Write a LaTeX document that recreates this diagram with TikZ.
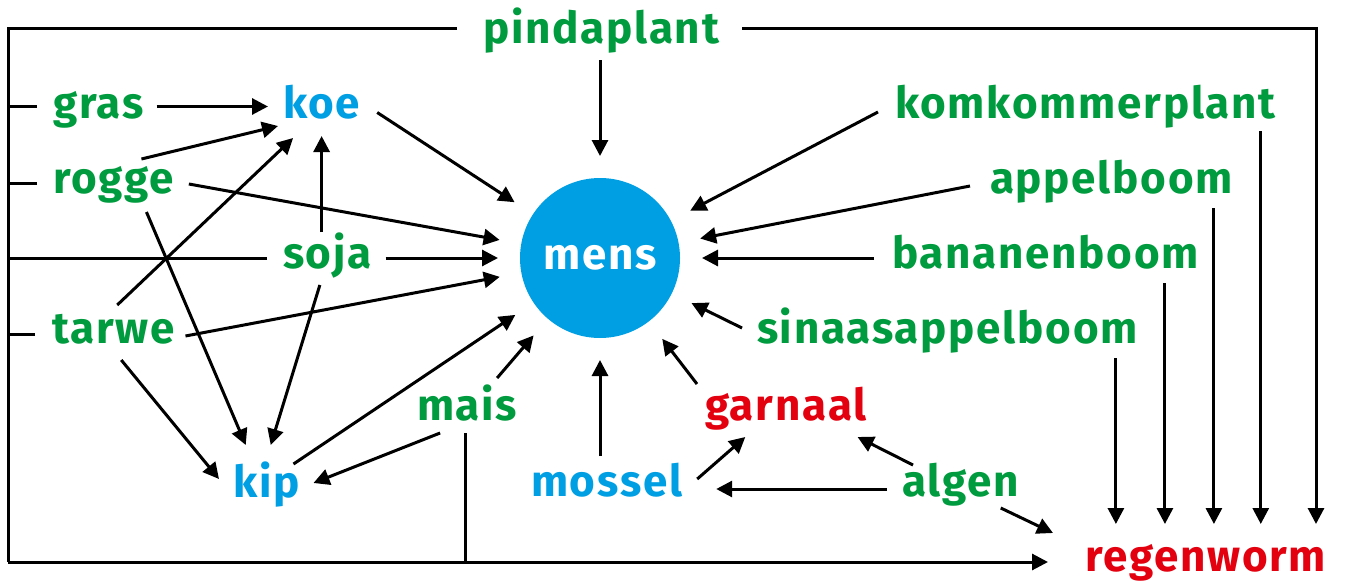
\documentclass[tikz,border=0pt]{standalone}
\usepackage{fontspec}
\setmainfont{Fira Sans}[LetterSpace=4]
\usetikzlibrary{arrows.meta,calc}
\definecolor{plantgreen}{RGB}{0,155,62}
\definecolor{animalblue}{RGB}{0,159,227}
\definecolor{wormred}{RGB}{227,0,15}
\tikzset{
  lbl/.style={anchor=base west,inner sep=0pt,outer sep=0pt,text height=23pt,text depth=0pt,
    font=\fontsize{44}{50}\selectfont\bfseries},
  plant/.style={lbl,text=plantgreen},
  animal/.style={lbl,text=animalblue},
  decomp/.style={lbl,text=wormred},
  link/.style={line width=3pt,draw=black},
  arr/.style={link,-{Triangle[length=16pt,width=16pt]}},
}
\begin{document}
\begin{tikzpicture}[x=1pt,y=-1pt]
\useasboundingbox (0,0) rectangle (1350,581);

% centre of the web
\node[circle,fill=animalblue,minimum size=160pt,inner sep=0pt,outer sep=22pt,
      text=white,font=\fontsize{44}{50}\selectfont\bfseries] (mens) at (600,258) {mens};

% producers and consumers
\node[plant]  (pindaplant) at (483,43)  {pindaplant};
\node[plant]  (gras)       at (53,118)  {gras};
\node[animal] (koe)        at (283,118) {koe};
\node[plant]  (rogge)      at (53,193)  {rogge};
\node[plant]  (soja)       at (283,268) {soja};
\node[plant]  (tarwe)      at (52,343)  {tarwe};
\node[animal] (kip)        at (233,497) {kip};
\node[plant]  (mais)       at (417,420) {mais};
\node[animal] (mossel)     at (531,496) {mossel};
\node[decomp] (garnaal)    at (705,420) {garnaal};
\node[plant]  (algen)      at (902,496) {algen};
\node[decomp] (regenworm)  at (1085,571) {regenworm};
\node[plant]  (komkommer)  at (895,118) {komkommerplant};
\node[plant]  (appel)      at (990,193) {appelboom};
\node[plant]  (banaan)     at (892,268) {bananenboom};
\node[plant]  (sinaas)     at (757,343) {sinaasappelboom};

% outer frame collecting everything that ends in the soil
\coordinate (ftl) at (8,28);
\coordinate (fbl) at (8,562);
\coordinate (ftr) at (1316,28);
\coordinate (pl-left)  at ($(pindaplant.west)+(-26,0)$);
\coordinate (pl-right) at ($(pindaplant.east)+(23,0)$);
\coordinate (worm-in)  at ($(regenworm.west)+(-37,3)$);
\draw[link] (ftl -| pl-left) -- (ftl) -- (fbl);
\draw[arr] (fbl) -- (fbl -| worm-in);
\draw[arr] (ftl -| pl-right) -- (ftr) -- ($(ftr |- regenworm.north)+(0,-24)$);

% side branches into the frame
\draw[link] ($(gras.west)+(-16,0)$) -- (ftl |- gras.west);
\draw[link] ($(rogge.west)+(-16,1.5)$) -- ($(ftl |- rogge.west)+(0,1.5)$);
\draw[link] ($(soja.west)+(-16,1.5)$) -- ($(ftl |- soja.west)+(0,1.5)$);
\draw[link] ($(tarwe.west)+(-17,2.5)$) -- ($(ftl |- tarwe.west)+(0,2.5)$);
\draw[link] ($(mais.south)+(-2,13)$) -- ($(mais.south |- fbl)+(-2,0)$);

% into koe
\draw[arr] ($(gras.east)+(13,0)$) -- ($(koe.west)+(-15,0)$);
\draw[arr] ($(rogge.north)+(28,-11)$) -- ($(koe.south west)+(-5,8)$);
\draw[arr] ($(tarwe.north)+(4,-15)$) -- ($(koe.south)+(-28.5,20)$);
\draw[arr] ($(koe.south |- soja.north)+(0,-13)$) -- ($(koe.south)+(0,18)$);

% into kip
\draw[arr] ($(rogge.south)+(33,19)$) -- ($(kip.north)+(-20.5,-29)$);
\draw[arr] ($(soja.south)+(-7.5,17)$) -- ($(kip.north)+(4.5,-29)$);
\draw[arr] ($(tarwe.south)+(8,17)$) -- ($(kip.west)+(-14,-6.5)$);
\draw[arr] ($(mais.south)+(-27,13)$) -- ($(kip.east)+(14,-2.5)$);

% into mens
\draw[arr] ($(mens |- pindaplant.south)+(0,17)$) -- (mens);
\draw[arr] ($(koe.east)+(17,6)$) -- (mens);
\draw[arr] ($(rogge.east)+(15,2.5)$) -- (mens);
\draw[arr] ($(soja.east)+(14,1.5)$) -- (mens);
\draw[arr] ($(tarwe.east)+(11,4.5)$) -- (mens);
\draw[arr] ($(kip.north east)+(-6,-10)$) -- (mens);
\draw[arr] ($(mais.north)+(30,-19)$) -- (mens);
\draw[arr] ($(mens |- mossel.north)+(0,-17)$) -- (mens);
\draw[arr] ($(garnaal.north west)+(-8,-13)$) -- (mens);
\draw[arr] ($(komkommer.west)+(-17,5.5)$) -- (mens);
\draw[arr] ($(appel.west)+(-20,4.5)$) -- (mens);
\draw[arr] ($(banaan.west)+(-18,1.5)$) -- (mens);
\draw[arr] ($(sinaas.west)+(-15,-3.5)$) -- (mens);

% sea
\draw[arr] ($(mossel.east)+(15,-5.5)$) -- ($(garnaal.south)+(-40.5,17)$);
\draw[arr] ($(algen.west)+(-15,4.5)$) -- ($(mossel.east)+(34,4.5)$);
\draw[arr] ($(algen.north west)+(11,-8)$) -- ($(garnaal.south east)+(-9,17)$);
\draw[arr] ($(algen.south east)+(-18,12)$) -- ($(regenworm.west)+(-32,-26.5)$);

% into regenworm
\draw[arr] ($(sinaas.south east)+(-22,15)$) -- ($(sinaas.south east |- regenworm.north)+(-22,-24)$);
\draw[arr] ($(banaan.south east)+(-34,15)$) -- ($(banaan.south east |- regenworm.north)+(-34,-24)$);
\draw[arr] ($(appel.south east)+(-19,15)$) -- ($(appel.south east |- regenworm.north)+(-19,-24)$);
\draw[arr] ($(komkommer.south east)+(-15,13)$) -- ($(komkommer.south east |- regenworm.north)+(-15,-24)$);
\end{tikzpicture}
\end{document}
